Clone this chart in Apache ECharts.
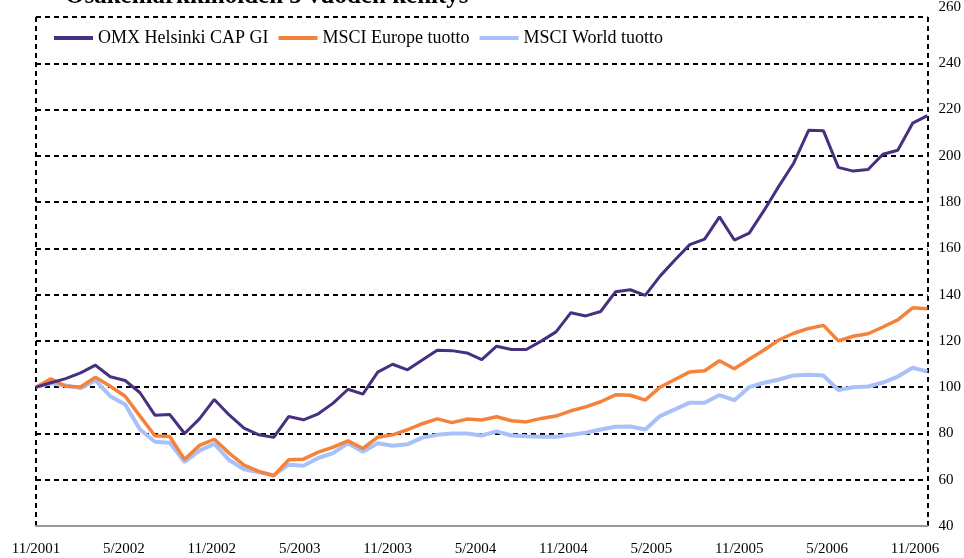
<!DOCTYPE html>
<html>
<head>
<meta charset="utf-8">
<script src="https://cdn.jsdelivr.net/npm/echarts@6/dist/echarts.min.js"></script>
<style>
html,body{margin:0;padding:0;background:#fff;}
#c{width:964px;height:558px;}
</style>
</head>
<body>
<div id="c"></div>
<script>
var titleText = 'Osakemarkkinoiden 5 vuoden kehitys';
var seriesNames = ['OMX Helsinki CAP GI', 'MSCI Europe tuotto', 'MSCI World tuotto'];
var tickLabels = ['11/2001','5/2002','11/2002','5/2003','11/2003','5/2004','11/2004','5/2005','11/2005','5/2006','11/2006'];

// monthly categories 11/2001 .. 11/2006
var categories = [];
(function(){ var m = 11, y = 2001; for (var k = 0; k < 61; k++) { categories.push(m + '/' + y); m++; if (m > 12) { m = 1; y++; } } })();

var omx = [100,101.9,103.7,106.2,109.5,104.5,102.9,97.6,87.9,88.2,80.0,86.3,94.7,88.0,82.3,79.4,78.3,87.3,85.9,88.5,
  93.1,99.1,97.0,106.5,109.9,107.5,111.8,116.0,115.8,114.8,111.9,117.7,116.3,116.3,119.9,123.9,132.2,130.8,132.7,141.2,
  142.1,139.7,148.0,155.0,161.6,164.0,173.6,163.6,166.6,176.4,186.9,196.9,211.0,210.8,195.0,193.4,194.1,200.7,202.4,214.1,217.4];
var europe = [100,103.6,100.4,100.1,104.3,100.4,96.1,87.5,79.0,78.7,68.8,74.8,77.5,71.5,66.3,63.6,61.7,68.6,68.9,71.9,
  74.1,76.8,73.5,78.4,79.4,81.6,84.2,86.3,84.7,86.2,85.8,87.2,85.5,85.0,86.5,87.5,89.8,91.5,93.7,96.7,
  96.5,94.4,100.0,103.3,106.6,107.1,111.4,108.0,112.1,116.1,120.4,123.3,125.4,126.7,120.0,122.0,123.1,126.0,129.1,134.3,133.9];
var world = [100,101.7,100.7,99.6,102.9,96.1,92.5,81.7,76.4,76.0,67.7,72.6,75.5,68.5,64.5,63.2,62.0,66.5,66.0,69.4,
  71.5,75.8,72.1,75.8,74.7,75.3,78.2,79.4,80.0,80.0,79.1,80.9,79.1,78.8,78.6,78.6,79.4,80.3,81.7,82.9,
  83.0,81.7,87.5,90.4,93.3,93.3,96.6,94.4,100.0,101.9,103.3,105.1,105.4,105.0,98.8,100.0,100.3,102.0,104.6,108.4,106.7];

var colors = ['#46307f', '#f5823a', '#a9c1f9'];
var serif = '"Liberation Serif", "Times New Roman", serif';

var chart = echarts.init(document.getElementById('c'), null, {renderer: 'canvas'});
var dash = {color: '#000', width: 2, type: [5, 4]};

chart.setOption({
  animation: false,
  backgroundColor: '#fff',
  graphic: [{
    type: 'text', left: 65, top: -16, silent: true,
    style: {text: titleText, font: 'bold 25px ' + serif, fill: '#000'}
  }],
  legend: {
    left: 54, top: 28, padding: 0, itemGap: 10, itemWidth: 39, itemHeight: 4,
    icon: 'rect',
    textStyle: {fontFamily: serif, fontSize: 18, color: '#000', lineHeight: 20},
    data: seriesNames
  },
  grid: {left: 36, right: 34, top: 15, bottom: 32, containLabel: false},
  xAxis: [{
    type: 'category', data: categories, boundaryGap: false,
    axisLine: {show: true, lineStyle: {color: '#999', width: 2}},
    axisTick: {show: false}, axisLabel: {show: false}, splitLine: {show: false}, z: 3
  }, {
    type: 'value', position: 'bottom', min: 0, max: 60.85, interval: 6,
    axisLine: {show: false}, axisTick: {show: false}, splitLine: {show: false},
    axisLabel: {
      show: true, margin: 16, fontFamily: serif, fontSize: 15, color: '#000',
      showMaxLabel: false,
      formatter: function (v) { return (v % 6 === 0 && tickLabels[v / 6]) ? tickLabels[v / 6] : ''; }
    }
  }, {
    // plot-area left/right dashed border
    type: 'value', position: 'top', min: 0, max: 1, interval: 1,
    axisLine: {show: false}, axisTick: {show: false}, axisLabel: {show: false},
    splitLine: {show: true, showMinLine: true, showMaxLine: true, lineStyle: dash}
  }],
  yAxis: [{
    type: 'value', position: 'right', min: 40, max: 260, interval: 20,
    axisLine: {show: false},
    axisTick: {show: false},
    splitLine: {show: true, showMinLine: true, showMaxLine: true, lineStyle: dash},
    axisLabel: {
      margin: 11, fontFamily: serif, fontSize: 15, color: '#000',
      formatter: function (v) { return v === 260 ? '{t|' + v + '}' : String(v); },
      rich: {t: {fontFamily: serif, fontSize: 15, color: '#000', padding: [0, 0, 19, 0]}}
    }
  }],
  series: [
    {name: seriesNames[0], type: 'line', data: omx, z: 5, symbol: 'none', color: colors[0],
     lineStyle: {width: 3, color: colors[0]}},
    {name: seriesNames[1], type: 'line', data: europe, z: 4, symbol: 'none', color: colors[1],
     lineStyle: {width: 3.5, color: colors[1]}},
    {name: seriesNames[2], type: 'line', data: world, z: 3, symbol: 'none', color: colors[2],
     lineStyle: {width: 4, color: colors[2]}}
  ]
});
</script>
</body>
</html>
